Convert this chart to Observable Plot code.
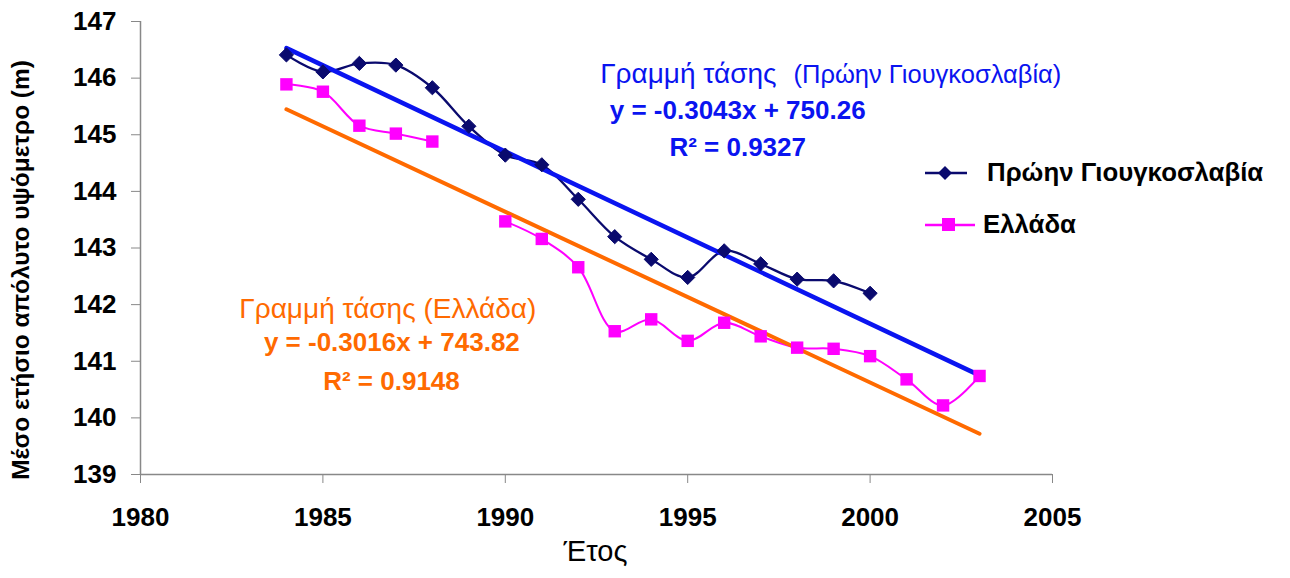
<!DOCTYPE html>
<html>
<head>
<meta charset="utf-8">
<script src="https://cdn.jsdelivr.net/npm/d3@7"></script>
<script src="https://cdn.jsdelivr.net/npm/@observablehq/plot@0.6"></script>
<style>
  html, body { margin: 0; padding: 0; background: #fff; }
  #wrap { position: relative; width: 1290px; height: 578px; font-family: "Liberation Sans", Arial, sans-serif; }
  .leg { position: absolute; display: flex; align-items: center; font-weight: bold; font-size: 25.8px; color: #000; white-space: nowrap; }
</style>
</head>
<body>
<div id="wrap"></div>
<script>
// ---- data ----
const yugoName = "Πρώην Γιουγκοσλαβία";
const greeceName = "Ελλάδα";

const yugoYears = [1984, 1985, 1986, 1987, 1988, 1989, 1990, 1991, 1992, 1993, 1994, 1995, 1996, 1997, 1998, 1999, 2000];
const yugoLevels = [146.41, 146.11, 146.26, 146.23, 145.83, 145.15, 144.64, 144.47, 143.86, 143.20, 142.80, 142.48, 142.95, 142.72, 142.45, 142.42, 142.20];

const greeceYears = [1984, 1985, 1986, 1987, 1988, 1989, 1990, 1991, 1992, 1993, 1994, 1995, 1996, 1997, 1998, 1999, 2000, 2001, 2002, 2003];
const greeceLevels = [145.89, 145.76, 145.16, 145.02, 144.88, null, 143.47, 143.16, 142.66, 141.53, 141.74, 141.36, 141.68, 141.44, 141.24, 141.22, 141.09, 140.68, 140.22, 140.74];

const trendYears = [1984, 2003];
const yugoTrend = [146.53, 140.75];
const greeceTrend = [145.45, 139.72];

const xTicks = [1980, 1985, 1990, 1995, 2000, 2005];
const yTicks = [139, 140, 141, 142, 143, 144, 145, 146, 147];

const yAxisTitle = "Μέσο ετήσιο απόλυτο υψόμετρο (m)";
const xAxisTitle = "Έτος";

const yugoTrendLabels = [
  {text: "Γραμμή τάσης", x: 1992.6, y: 146.064, size: 28, weight: "normal", anchor: "start"},
  {text: "(Πρώην Γιουγκοσλαβία)", x: 1997.9, y: 146.055, size: 25.5, weight: "normal", anchor: "start"},
  {text: "y = -0.3043x + 750.26", x: 1996.37, y: 145.43, size: 26, weight: "bold", anchor: "middle"},
  {text: "R² = 0.9327", x: 1996.37, y: 144.775, size: 26, weight: "bold", anchor: "middle"}
];
const greeceTrendLabels = [
  {text: "Γραμμή τάσης (Ελλάδα)", x: 1986.78, y: 141.914, size: 28, weight: "normal", anchor: "middle"},
  {text: "y = -0.3016x + 743.82", x: 1986.89, y: 141.32, size: 26, weight: "bold", anchor: "middle"},
  {text: "R² = 0.9148", x: 1986.88, y: 140.64, size: 26, weight: "bold", anchor: "middle"}
];

// ---- build tables ----
const yugo = yugoYears.map((year, i) => ({year, level: yugoLevels[i]}));
const greece = greeceYears.map((year, i) => ({year, level: greeceLevels[i]}));
const yTrend = trendYears.map((year, i) => ({year, level: yugoTrend[i]}));
const gTrend = trendYears.map((year, i) => ({year, level: greeceTrend[i]}));

const font = "Liberation Sans, Arial, sans-serif";
const navy = "#0a0a6e";
const magenta = "#ff00ff";
const blue = "#0a14f0";
const orange = "#ff6a00";

function labelMarks(rows, color) {
  return rows.map(r => Plot.text([r], {
    x: "x", y: "y", text: "text", fill: color, fontSize: r.size, fontWeight: r.weight,
    textAnchor: r.anchor, lineAnchor: "middle", fontFamily: font
  }));
}

const chart = Plot.plot({
  width: 1290,
  height: 578,
  marginLeft: 140,
  marginRight: 238,
  marginTop: 21,
  marginBottom: 104,
  style: {fontFamily: font, background: "white", overflow: "visible"},
  x: {domain: [1980, 2005]},
  y: {domain: [139, 147]},
  marks: [
    Plot.axisY({ticks: yTicks, tickSize: 9, tickPadding: 15, fontSize: 26, fontWeight: "bold", fill: "#000", stroke: "#888", label: null, tickFormat: "d"}),
    Plot.axisX({ticks: xTicks, tickSize: 9, tickPadding: 24, fontSize: 26, fontWeight: "bold", fill: "#000", stroke: "#888", label: null, tickFormat: "d"}),
    Plot.ruleX([1980], {stroke: "#888", strokeWidth: 1.5}),
    Plot.ruleY([139], {stroke: "#888", strokeWidth: 1.5}),
    Plot.line(yugo, {x: "year", y: "level", stroke: navy, strokeWidth: 2.3, curve: "catmull-rom"}),
    Plot.line(greece, {x: "year", y: "level", stroke: magenta, strokeWidth: 2, curve: "catmull-rom"}),
    Plot.line(yTrend, {x: "year", y: "level", stroke: blue, strokeWidth: 4.5}),
    Plot.line(gTrend, {x: "year", y: "level", stroke: orange, strokeWidth: 4}),
    Plot.dot(yugo, {x: "year", y: "level", symbol: "diamond2", r: 6.4, fill: navy, stroke: navy, strokeWidth: 1}),
    Plot.dot(greece.filter(d => d.level != null), {x: "year", y: "level", symbol: "square", r: 7, fill: magenta}),
    ...labelMarks(yugoTrendLabels, blue),
    ...labelMarks(greeceTrendLabels, orange),
    Plot.text([yAxisTitle], {frameAnchor: "left", textAnchor: "middle", lineAnchor: "middle", dx: -119, dy: 22, rotate: -90, fontSize: 24.4, fontWeight: "bold", fill: "#000", fontFamily: font}),
    Plot.text([xAxisTitle], {frameAnchor: "bottom", textAnchor: "middle", lineAnchor: "middle", dx: -1, dy: 77, fontSize: 29, fontWeight: "normal", fill: "#000", fontFamily: font})
  ]
});

const wrap = document.getElementById("wrap");
wrap.appendChild(chart);

// ---- legend ----
const legendItems = [
  {name: yugoName, color: navy, symbol: "diamond", top: 158, left: 925},
  {name: greeceName, color: magenta, symbol: "square", top: 210, left: 925}
];
legendItems.forEach(item => {
  const div = document.createElement("div");
  div.className = "leg";
  div.style.top = item.top + "px";
  div.style.left = item.left + "px";
  const marker = item.symbol === "diamond"
    ? `<polygon points="20,7 27,14 20,21 13,14" fill="${item.color}"/>`
    : `<rect x="17" y="7" width="13" height="13" fill="${item.color}"/>`;
  const lineEnd = item.symbol === "diamond" ? 42 : 50;
  div.innerHTML = `<svg width="${item.symbol === "diamond" ? 62 : 58}" height="28"><line x1="0" y1="14" x2="${lineEnd}" y2="14" stroke="${item.color}" stroke-width="2.5"/>${marker}</svg><span>${item.name}</span>`;
  wrap.appendChild(div);
});
</script>
</body>
</html>
